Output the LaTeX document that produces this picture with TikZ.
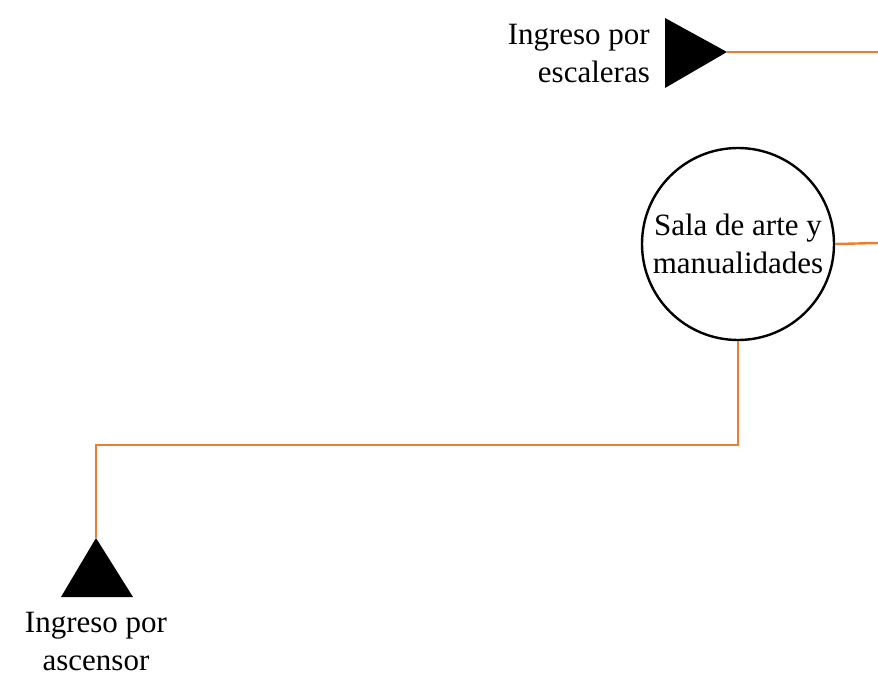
\documentclass[tikz,border=0pt]{standalone}
\usepackage{fontspec}
\setmainfont{Liberation Serif}
\definecolor{linkorange}{HTML}{ED7D31}
\begin{document}
\begin{tikzpicture}[x=1pt,y=-1pt,
  link/.style={draw=linkorange,line width=2.4pt},
  label/.style={inner sep=0pt,font=\fontsize{31}{38}\selectfont},
  room/.style={circle,draw=black,line width=2.4pt,minimum size=192pt,inner sep=0pt,align=center,font=\fontsize{31}{38}\selectfont}]
\useasboundingbox (0,0) rectangle (878,677);
% top triangle (stairs)
\fill (665,18) -- (727,52) -- (665,88) -- cycle;
\coordinate (stairs) at (727,52);
\coordinate (topend) at (878,52);
\node[label,anchor=base east,align=right] (stairslbl) at (650,82) {Ingreso por\\escaleras};
% room
\node[room] (sala) at (738,244) {Sala de arte y\\manualidades};
\coordinate (midend) at (878,243);
% bottom triangle (elevator)
\fill (61,597) -- (96,538) -- (133,597) -- cycle;
\coordinate (elev) at (96,538);
\coordinate (corner) at (96,445);
\node[label,anchor=base,align=center] (elevlbl) at (96,670) {Ingreso por\\ascensor};
% connectors
\draw[link] (stairs) -- (topend);
\draw[link] (sala.east) -- (midend);
\draw[link] (sala.south) |- (corner) -- (elev);
\end{tikzpicture}
\end{document}
